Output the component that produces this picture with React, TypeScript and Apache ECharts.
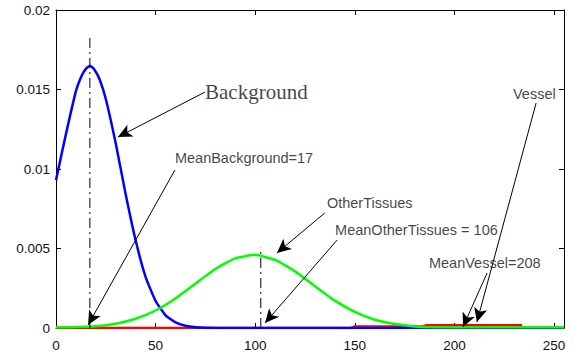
import React, { useEffect, useRef } from "react";
import * as echarts from "echarts";

// Background (blue) distribution
const blueX = [0, 5, 10, 13, 15, 17, 19, 22, 25, 30, 35, 40, 45, 50, 55, 60, 65, 70, 75, 80, 100, 150, 200, 255];
const blueY = [0.0093, 0.0122, 0.0149, 0.0159, 0.0163, 0.0165, 0.0163, 0.0156, 0.0144, 0.0116, 0.0084, 0.0055, 0.0032, 0.0017, 0.0008, 0.00035, 0.00014, 0.00005, 0.00001, 0, 0, 0, 0, 0];

// Other tissues (green) distribution
const greenX = [0, 10, 20, 30, 40, 50, 60, 70, 80, 90, 100, 110, 120, 130, 140, 150, 160, 170, 180, 190, 200, 255];
const greenY = [0.00005, 0.00006, 0.00011, 0.00027, 0.00058, 0.0011, 0.00186, 0.00279, 0.00371, 0.00438, 0.0046, 0.00428, 0.00356, 0.00263, 0.00172, 0.00101, 0.00052, 0.00025, 0.0001, 0.00005, 0.00004, 0.00004];

// Vessel (red) distribution
const redX = [0, 40, 80, 120, 148, 150, 184, 186, 208, 234];
const redY = [0, 0, 0, 0, 0, 0.0001, 0.0001, 0.00017, 0.00017, 0.00017];

// Mean lines
const meanBackgroundX = 17;
const meanBackgroundTop = 0.0183;
const meanOtherX = 102.8;
const meanOtherTop = 0.00505;

// Tick settings
const xTicks = { min: 0, max: 255, interval: 50 };
const yTicks = { min: 0, max: 0.02, interval: 0.005 };

// Annotation texts (anchor = left, vertical middle) in data coordinates
const noteTexts = ["Background", "MeanBackground=17", "OtherTissues", "MeanOtherTissues = 106", "MeanVessel=208", "Vessel"];
const noteX = [74.8, 59.7, 136.0, 140.1, 187.2, 229.4];
const noteY = [0.01484, 0.01069, 0.00786, 0.00616, 0.00409, 0.01472];

// Arrows: from -> to (data coordinates)
const arrowFrom: [number, number][] = [
  [74.8, 0.01484],
  [59.7, 0.00994],
  [134.9, 0.00723],
  [141.1, 0.00553],
  [216.4, 0.00346],
  [241.0, 0.01415],
];
const arrowTo: [number, number][] = [
  [31.1, 0.01201],
  [16.1, 0.00019],
  [110.9, 0.00472],
  [104.9, 0.00031],
  [204.3, 0.00006],
  [211.3, 0.00038],
];

const SANS = "'Liberation Sans', Arial, sans-serif";
const SERIF = "'Liberation Serif', 'Times New Roman', serif";

export default function App() {
  const ref = useRef<HTMLDivElement>(null);
  useEffect(() => {
    if (!ref.current) return;
    const chart = echarts.init(ref.current, undefined, { renderer: "svg" });
    const zip = (xs: number[], ys: number[]) => xs.map((x, i) => [x, ys[i]]);
    const axisLine = { show: true, onZero: false, lineStyle: { color: "#000", width: 1 } };
    const tick = { show: true, inside: true, length: 5, lineStyle: { color: "#000", width: 1 } };
    const label = { color: "#111", fontSize: 13.5, fontFamily: SANS };
    chart.setOption({
      animation: false,
      backgroundColor: "#fff",
      grid: { left: 56, right: 10, top: 10, bottom: 34, containLabel: false },
      xAxis: [
        {
          type: "value", position: "bottom", ...xTicks,
          axisLine, axisTick: tick, splitLine: { show: false },
          axisLabel: { ...label, margin: 10, showMaxLabel: false },
        },
        {
          type: "value", position: "top", ...xTicks,
          axisLine, axisTick: tick, splitLine: { show: false },
          axisLabel: { show: false },
        },
      ],
      yAxis: [
        {
          type: "value", position: "left", ...yTicks,
          axisLine, axisTick: tick, splitLine: { show: false },
          axisLabel: { ...label, margin: 6 },
        },
        {
          type: "value", position: "right", ...yTicks,
          axisLine, axisTick: tick, splitLine: { show: false },
          axisLabel: { show: false },
        },
      ],
      series: [
        {
          type: "line", name: "Vessel", data: zip(redX, redY), symbol: "none",
          lineStyle: { color: "#ff0000", width: 2.5 }, z: 2,
        },
        {
          type: "line", name: "Background", data: zip(blueX, blueY), symbol: "none",
          smooth: 0.15,
          lineStyle: { color: "#0000ff", width: 2.5 }, z: 3,
        },
        {
          type: "line", name: "OtherTissues", data: zip(greenX, greenY), symbol: "none",
          smooth: 0.15,
          lineStyle: { color: "#00ff00", width: 2.5 }, z: 4,
        },
        {
          type: "line", name: "MeanBackground", data: [[meanBackgroundX, 0], [meanBackgroundX, meanBackgroundTop]],
          symbol: "none", lineStyle: { color: "#000", width: 1, type: [10, 4, 2, 4] }, z: 5,
        },
        {
          type: "line", name: "MeanOther", data: [[meanOtherX, 0], [meanOtherX, meanOtherTop]],
          symbol: "none", lineStyle: { color: "#000", width: 1, type: [10, 4, 2, 4] }, z: 5,
          markLine: {
            silent: true,
            animation: false,
            symbol: ["none", "arrow"],
            symbolSize: [10, 14],
            label: { show: false },
            lineStyle: { color: "#000", width: 1, type: "solid" },
            emphasis: { disabled: true },
            data: arrowFrom.map((f, i) => [
              { coord: f, symbol: "none" },
              { coord: arrowTo[i], symbol: "arrow" },
            ]),
          },
        },
        {
          type: "scatter", name: "notes", symbolSize: 0, z: 6, silent: true,
          data: noteTexts.map((t, i) => ({
            value: [noteX[i], noteY[i]],
            label: {
              show: true, position: "right", distance: 0, formatter: t,
              color: "#111",
              fontFamily: i === 0 ? SERIF : SANS,
              fontSize: i === 0 ? 21 : 14.5,
            },
          })),
        },
      ],
    });
    return () => chart.dispose();
  }, []);
  return (
    <div
      ref={ref}
      style={{ position: "fixed", left: 0, top: 0, width: 574, height: 362, background: "#fff" }}
    />
  );
}
